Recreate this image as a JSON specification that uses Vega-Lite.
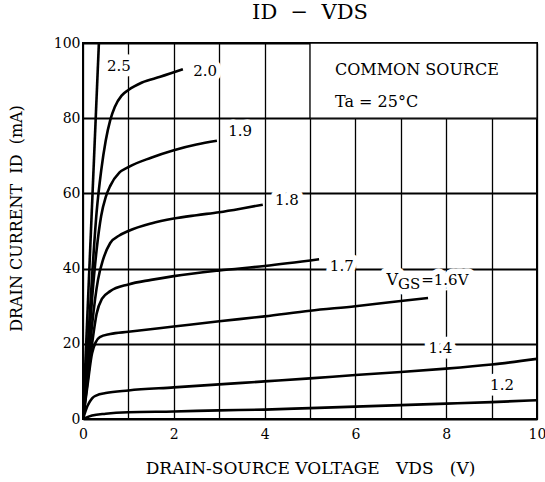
{
  "$schema": "https://vega.github.io/schema/vega-lite/v6.json",
  "width": 454,
  "height": 376,
  "autosize": "none",
  "padding": {"left": 83, "top": 43, "right": 8, "bottom": 63},
  "background": "white",
  "config": {
    "font": "DejaVu Serif",
    "view": {"stroke": "black", "strokeWidth": 2}
  },
  "title": {"text": "ID\u00a0\u00a0−\u00a0\u00a0VDS", "fontSize": 21, "fontWeight": "normal", "anchor": "middle", "offset": 13, "color": "black"},
  "datasets": {
    "curves": [
      {"vgs": "2.5", "v": 0, "i": 0}, {"vgs": "2.5", "v": 0.35, "i": 100},
      {"vgs": "2.0", "v": 0, "i": 0}, {"vgs": "2.0", "v": 0.1, "i": 18}, {"vgs": "2.0", "v": 0.2, "i": 38}, {"vgs": "2.0", "v": 0.3, "i": 55}, {"vgs": "2.0", "v": 0.4, "i": 66}, {"vgs": "2.0", "v": 0.5, "i": 74}, {"vgs": "2.0", "v": 0.6, "i": 79.5}, {"vgs": "2.0", "v": 0.7, "i": 83}, {"vgs": "2.0", "v": 0.85, "i": 86}, {"vgs": "2.0", "v": 1.0, "i": 87.5}, {"vgs": "2.0", "v": 1.3, "i": 89.5}, {"vgs": "2.0", "v": 1.7, "i": 91}, {"vgs": "2.0", "v": 2.2, "i": 93},
      {"vgs": "1.9", "v": 0, "i": 0}, {"vgs": "1.9", "v": 0.1, "i": 15}, {"vgs": "1.9", "v": 0.2, "i": 32}, {"vgs": "1.9", "v": 0.3, "i": 45}, {"vgs": "1.9", "v": 0.4, "i": 54}, {"vgs": "1.9", "v": 0.5, "i": 59}, {"vgs": "1.9", "v": 0.6, "i": 62}, {"vgs": "1.9", "v": 0.8, "i": 65.5}, {"vgs": "1.9", "v": 1.0, "i": 67}, {"vgs": "1.9", "v": 1.5, "i": 69.5}, {"vgs": "1.9", "v": 2.0, "i": 71.5}, {"vgs": "1.9", "v": 2.5, "i": 73}, {"vgs": "1.9", "v": 2.95, "i": 74},
      {"vgs": "1.8", "v": 0, "i": 0}, {"vgs": "1.8", "v": 0.1, "i": 12}, {"vgs": "1.8", "v": 0.2, "i": 25}, {"vgs": "1.8", "v": 0.33, "i": 37}, {"vgs": "1.8", "v": 0.44, "i": 42.3}, {"vgs": "1.8", "v": 0.6, "i": 46.8}, {"vgs": "1.8", "v": 0.8, "i": 48.8}, {"vgs": "1.8", "v": 1.0, "i": 50}, {"vgs": "1.8", "v": 1.5, "i": 52}, {"vgs": "1.8", "v": 2.0, "i": 53.3}, {"vgs": "1.8", "v": 2.5, "i": 54.2}, {"vgs": "1.8", "v": 3.0, "i": 55}, {"vgs": "1.8", "v": 3.5, "i": 56}, {"vgs": "1.8", "v": 3.96, "i": 57},
      {"vgs": "1.7", "v": 0, "i": 0}, {"vgs": "1.7", "v": 0.1, "i": 10}, {"vgs": "1.7", "v": 0.2, "i": 20}, {"vgs": "1.7", "v": 0.3, "i": 28}, {"vgs": "1.7", "v": 0.42, "i": 32}, {"vgs": "1.7", "v": 0.6, "i": 34}, {"vgs": "1.7", "v": 1.0, "i": 35.8}, {"vgs": "1.7", "v": 1.5, "i": 37}, {"vgs": "1.7", "v": 2.0, "i": 38}, {"vgs": "1.7", "v": 3.0, "i": 39.5}, {"vgs": "1.7", "v": 4.0, "i": 40.7}, {"vgs": "1.7", "v": 5.2, "i": 42.5},
      {"vgs": "1.6", "v": 0, "i": 0}, {"vgs": "1.6", "v": 0.1, "i": 9}, {"vgs": "1.6", "v": 0.2, "i": 17.5}, {"vgs": "1.6", "v": 0.37, "i": 21.8}, {"vgs": "1.6", "v": 0.6, "i": 22.6}, {"vgs": "1.6", "v": 1.0, "i": 23.2}, {"vgs": "1.6", "v": 2.0, "i": 24.6}, {"vgs": "1.6", "v": 3.0, "i": 26}, {"vgs": "1.6", "v": 4.0, "i": 27.3}, {"vgs": "1.6", "v": 5.0, "i": 28.8}, {"vgs": "1.6", "v": 6.0, "i": 30}, {"vgs": "1.6", "v": 7.0, "i": 31.4}, {"vgs": "1.6", "v": 7.6, "i": 32.2},
      {"vgs": "1.4", "v": 0, "i": 0}, {"vgs": "1.4", "v": 0.1, "i": 3.5}, {"vgs": "1.4", "v": 0.2, "i": 5.5}, {"vgs": "1.4", "v": 0.3, "i": 6.3}, {"vgs": "1.4", "v": 0.5, "i": 6.9}, {"vgs": "1.4", "v": 1.0, "i": 7.6}, {"vgs": "1.4", "v": 2.0, "i": 8.4}, {"vgs": "1.4", "v": 3.0, "i": 9.2}, {"vgs": "1.4", "v": 4.0, "i": 10}, {"vgs": "1.4", "v": 5.0, "i": 10.8}, {"vgs": "1.4", "v": 6.0, "i": 11.7}, {"vgs": "1.4", "v": 7.0, "i": 12.5}, {"vgs": "1.4", "v": 8.0, "i": 13.4}, {"vgs": "1.4", "v": 9.0, "i": 14.5}, {"vgs": "1.4", "v": 10.0, "i": 16},
      {"vgs": "1.2", "v": 0, "i": 0}, {"vgs": "1.2", "v": 0.2, "i": 0.9}, {"vgs": "1.2", "v": 0.5, "i": 1.4}, {"vgs": "1.2", "v": 1.0, "i": 1.8}, {"vgs": "1.2", "v": 2.0, "i": 2.0}, {"vgs": "1.2", "v": 3.0, "i": 2.3}, {"vgs": "1.2", "v": 4.0, "i": 2.5}, {"vgs": "1.2", "v": 5.0, "i": 2.9}, {"vgs": "1.2", "v": 6.0, "i": 3.3}, {"vgs": "1.2", "v": 7.0, "i": 3.7}, {"vgs": "1.2", "v": 8.0, "i": 4.1}, {"vgs": "1.2", "v": 9.0, "i": 4.5}, {"vgs": "1.2", "v": 10.0, "i": 5}
    ],
    "labels": [
      {"label": "2.5", "v": 0.79, "i": 94},
      {"label": "2.0", "v": 2.69, "i": 92.5},
      {"label": "1.9", "v": 3.46, "i": 76.6},
      {"label": "1.8", "v": 4.49, "i": 58.2},
      {"label": "1.7", "v": 5.7, "i": 40.8},
      {"label": "1.4", "v": 7.87, "i": 19},
      {"label": "1.2", "v": 9.23, "i": 9}
    ],
    "vName": [{"label": "V", "v": 6.94, "i": 37}],
    "vRest": [
      {"label": "GS", "v": 6.94, "i": 35.8},
      {"label": "=1.6V", "v": 7.45, "i": 37}
    ],
    "box": [{"x": 5, "x2": 10, "y": 80, "y2": 100}],
    "note": [
      {"text": "COMMON SOURCE", "v": 5.55, "i": 92.8},
      {"text": "Ta = 25°C", "v": 5.55, "i": 84.3}
    ]
  },
  "layer": [
    {
      "data": {"name": "box"},
      "mark": {"type": "rect", "fill": "white", "stroke": "black", "strokeWidth": 1.3},
      "encoding": {
        "x": {"field": "x", "type": "quantitative", "scale": {"domain": [0, 10], "nice": false},
          "axis": {
            "values": [0, 1, 2, 3, 4, 5, 6, 7, 8, 9, 10],
            "labelExpr": "datum.value % 2 === 0 ? datum.label : ''",
            "grid": true, "gridColor": "black", "gridWidth": 1.3, "gridOpacity": 1,
            "ticks": false, "domain": false,
            "labelFontSize": 14, "labelColor": "black", "labelPadding": 8, "labelFlush": false,
            "title": "DRAIN-SOURCE VOLTAGE\u00a0\u00a0\u00a0VDS\u00a0\u00a0\u00a0(V)",
            "titleFontSize": 17, "titleFontWeight": "normal", "titleColor": "black",
            "titleBaseline": "middle", "titleY": 49
          }},
        "x2": {"field": "x2"},
        "y": {"field": "y", "type": "quantitative", "scale": {"domain": [0, 100], "nice": false},
          "axis": {
            "values": [0, 10, 20, 30, 40, 50, 60, 70, 80, 90, 100],
            "labelExpr": "datum.value % 20 === 0 ? datum.label : ''",
            "grid": true, "gridColor": "black", "gridOpacity": 1,
            "gridWidth": {"condition": {"test": "datum.value % 20 === 0", "value": 1.8}, "value": 1.1},
            "ticks": false, "domain": false,
            "labelFontSize": 14, "labelColor": "black", "labelPadding": 3, "labelFlush": false,
            "title": "DRAIN CURRENT\u00a0\u00a0ID\u00a0\u00a0(mA)",
            "titleFontSize": 16, "titleFontWeight": "normal", "titleColor": "black",
            "titleX": -67, "titleY": 175, "titleAlign": "center", "titleBaseline": "middle"
          }},
        "y2": {"field": "y2"}
      }
    },
    {
      "data": {"name": "curves"},
      "mark": {"type": "line", "color": "black", "strokeWidth": 2.6, "interpolate": "monotone", "clip": true},
      "encoding": {
        "x": {"field": "v", "type": "quantitative"},
        "y": {"field": "i", "type": "quantitative"},
        "detail": {"field": "vgs"}
      }
    },
    {
      "data": {"name": "labels"},
      "mark": {"type": "text", "fontSize": 15, "stroke": "white", "strokeWidth": 11, "strokeJoin": "round", "fill": "white", "align": "center", "baseline": "middle"},
      "encoding": {
        "x": {"field": "v", "type": "quantitative"},
        "y": {"field": "i", "type": "quantitative"},
        "text": {"field": "label"}
      }
    },
    {
      "data": {"name": "vName"},
      "mark": {"type": "text", "fontSize": 16, "stroke": "white", "strokeWidth": 11, "strokeJoin": "round", "fill": "white", "align": "right", "baseline": "middle"},
      "encoding": {
        "x": {"field": "v", "type": "quantitative"},
        "y": {"field": "i", "type": "quantitative"},
        "text": {"field": "label"}
      }
    },
    {
      "data": {"name": "vRest"},
      "mark": {"type": "text", "fontSize": 15, "stroke": "white", "strokeWidth": 11, "strokeJoin": "round", "fill": "white", "align": "left", "baseline": "middle"},
      "encoding": {
        "x": {"field": "v", "type": "quantitative"},
        "y": {"field": "i", "type": "quantitative"},
        "text": {"field": "label"}
      }
    },
    {
      "data": {"name": "labels"},
      "mark": {"type": "text", "fontSize": 15, "color": "black", "align": "center", "baseline": "middle"},
      "encoding": {
        "x": {"field": "v", "type": "quantitative"},
        "y": {"field": "i", "type": "quantitative"},
        "text": {"field": "label"}
      }
    },
    {
      "data": {"name": "vName"},
      "mark": {"type": "text", "fontSize": 16, "color": "black", "align": "right", "baseline": "middle"},
      "encoding": {
        "x": {"field": "v", "type": "quantitative"},
        "y": {"field": "i", "type": "quantitative"},
        "text": {"field": "label"}
      }
    },
    {
      "data": {"name": "vRest"},
      "mark": {"type": "text", "fontSize": 15, "color": "black", "align": "left", "baseline": "middle"},
      "encoding": {
        "x": {"field": "v", "type": "quantitative"},
        "y": {"field": "i", "type": "quantitative"},
        "text": {"field": "label"}
      }
    },
    {
      "data": {"name": "note"},
      "mark": {"type": "text", "fontSize": 16, "color": "black", "align": "left", "baseline": "middle"},
      "encoding": {
        "x": {"field": "v", "type": "quantitative"},
        "y": {"field": "i", "type": "quantitative"},
        "text": {"field": "text"}
      }
    }
  ]
}
